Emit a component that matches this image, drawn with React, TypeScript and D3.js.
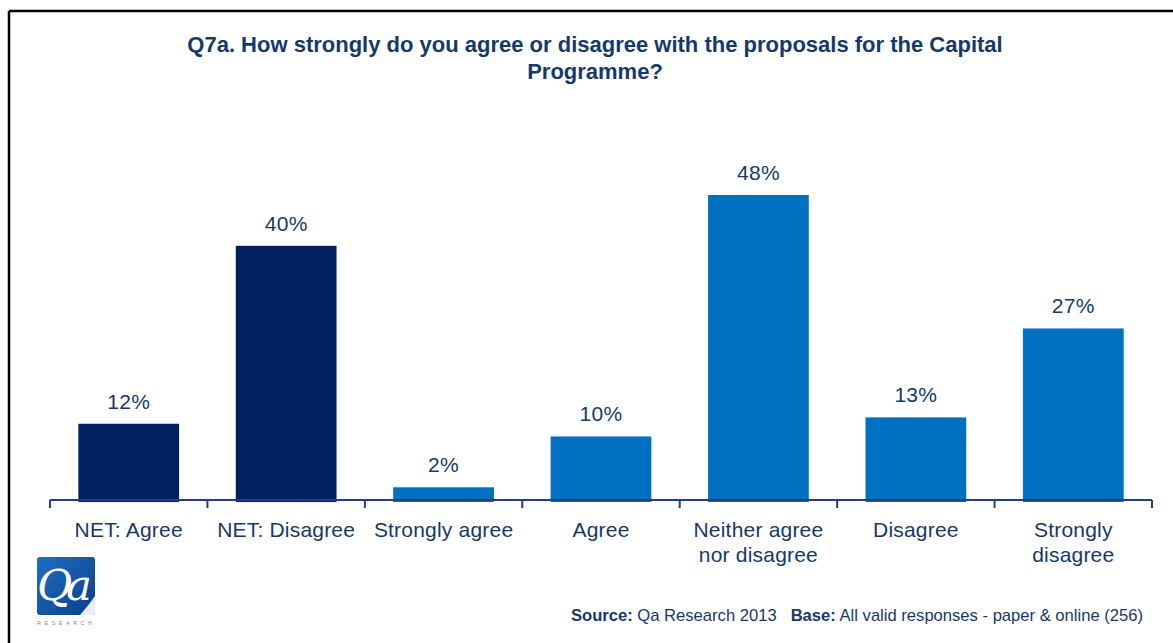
import React from "react";
import * as d3 from "d3";

const categories = [
  "NET: Agree",
  "NET: Disagree",
  "Strongly agree",
  "Agree",
  "Neither agree\nnor disagree",
  "Disagree",
  "Strongly\ndisagree",
];
const values = [12, 40, 2, 10, 48, 13, 27];
const groups = ["net", "net", "detail", "detail", "detail", "detail", "detail"];
const titleLines = [
  "Q7a. How strongly do you agree or disagree with the proposals for the Capital",
  "Programme?",
];

const W = 1173;
const H = 643;
const FONT = "'Liberation Sans', Arial, sans-serif";
const TEXT = "#15396B";
const AXIS = "#233F7E";
const colorOf: Record<string, string> = { net: "#00205F", detail: "#0070C0" };

export default function App() {
  const x = d3
    .scaleBand<string>()
    .domain(categories)
    .range([50, 1152])
    .paddingInner(0.36)
    .paddingOuter(0.18);
  const y = d3.scaleLinear().domain([0, 48]).range([500, 195]);
  const step = x.step();
  const x0 = x.range()[0];
  const tickXs = d3.range(categories.length + 1).map((i) => x0 + i * step);

  return (
    <svg
      width={W}
      height={H}
      style={{ position: "absolute", left: 0, top: 0, background: "#fff" }}
    >
      <defs>
        <linearGradient id="logoGrad" x1="0" y1="0" x2="1" y2="1">
          <stop offset="0" stopColor="#1F6FC0" />
          <stop offset="1" stopColor="#0B3F8C" />
        </linearGradient>
      </defs>
      <rect x={0} y={0} width={W} height={H} fill="#fff" />
      {/* frame */}
      <line x1={9} y1={11} x2={W} y2={11} stroke="#000" strokeWidth={2.5} />
      <line x1={9} y1={11} x2={9} y2={H} stroke="#000" strokeWidth={2.5} />

      {/* title */}
      <text
        x={595}
        textAnchor="middle"
        fontFamily={FONT}
        fontWeight="bold"
        fontSize={22}
        fill={TEXT}
      >
        {titleLines.map((t, i) => (
          <tspan key={i} x={595} y={52 + i * 27}>
            {t}
          </tspan>
        ))}
      </text>

      {/* bars */}
      {categories.map((c, i) => (
        <rect
          key={c}
          x={x(c)}
          y={y(values[i])}
          width={x.bandwidth()}
          height={y(0) - y(values[i]) + 2}
          fill={colorOf[groups[i]]}
        />
      ))}

      {/* value labels */}
      {categories.map((c, i) => (
        <text
          key={c}
          x={(x(c) as number) + x.bandwidth() / 2}
          y={y(values[i]) - 15}
          textAnchor="middle"
          fontFamily={FONT}
          fontSize={21}
          fill={TEXT}
          letterSpacing={0.3}
        >
          {values[i]}%
        </text>
      ))}

      {/* axis */}
      <line x1={x0} x2={x0 + step * categories.length} y1={y(0)} y2={y(0)} stroke={AXIS} strokeWidth={2} />
      {tickXs.map((tx, i) => (
        <line key={i} x1={tx} x2={tx} y1={y(0)} y2={y(0) + 8} stroke={AXIS} strokeWidth={2} />
      ))}

      {/* category labels */}
      {categories.map((c) => (
        <text
          key={c}
          textAnchor="middle"
          fontFamily={FONT}
          fontSize={21}
          fill={TEXT}
          letterSpacing={0.2}
        >
          {c.split("\n").map((ln, j) => (
            <tspan key={j} x={(x(c) as number) + x.bandwidth() / 2} y={537 + j * 25}>
              {ln}
            </tspan>
          ))}
        </text>
      ))}

      {/* logo */}
      <g>
        <rect x={37} y={557} width={58} height={58} rx={3} fill="url(#logoGrad)" />
        <path d="M 80 615 Q 89 605 95 596 L 95 615 Z" fill="#E8EEF6" />
        <text
          x={37}
          y={600}
          fontFamily="'DejaVu Serif', 'Liberation Serif', serif"
          fontStyle="italic"
          fontSize={43}
          fill="#fff"
          letterSpacing={-6}
        >
          Qa
        </text>
        <text
          x={37}
          y={625}
          fontFamily={FONT}
          fontSize={5.5}
          fill="#8A8A8A"
          letterSpacing={3.5}
        >
          RESEARCH
        </text>
      </g>

      {/* source */}
      <text
        x={1143}
        y={621}
        textAnchor="end"
        fontFamily={FONT}
        fontSize={16.6}
        fill={TEXT}
      >
        <tspan fontWeight="bold">Source:</tspan>
        <tspan> Qa Research 2013</tspan>
        <tspan dx={14} fontWeight="bold">Base:</tspan>
        <tspan> All valid responses - paper &amp; online (256)</tspan>
      </text>
    </svg>
  );
}
